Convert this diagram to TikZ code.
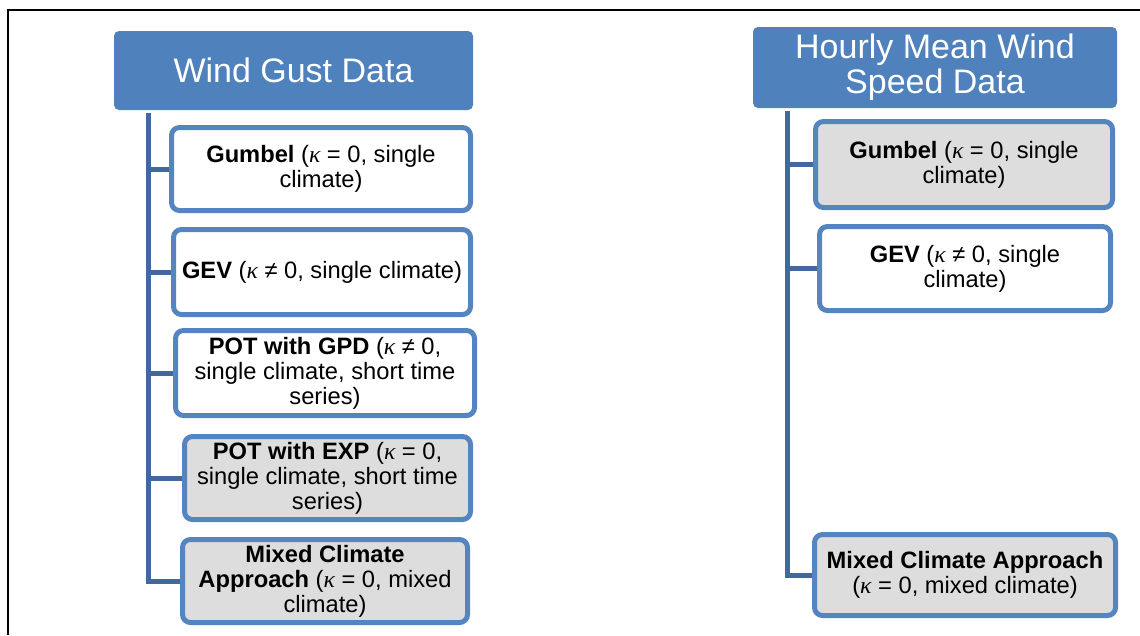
\documentclass[tikz,border=0pt]{standalone}
\usepackage{fontspec}
\setmainfont{Liberation Sans}
\newfontfamily\kfont{Liberation Serif}
\newcommand{\kap}{{\kfont\itshape κ}}
\definecolor{hdrblue}{HTML}{4F81BD}
\definecolor{boxblue}{HTML}{5585C0}
\definecolor{connblue}{HTML}{41699D}
\definecolor{boxgrey}{HTML}{DDDDDD}
\begin{document}
\begin{tikzpicture}[x=1pt,y=-1pt,
  hdr/.style={fill=hdrblue, draw=none, rounded corners=5pt, inner sep=0pt,
    text=white, align=center, font=\fontsize{34}{35}\selectfont},
  item/.style={draw=boxblue, line width=5pt, rounded corners=8pt, inner sep=0pt,
    fill=white, align=center, font=\fontsize{23.7}{25}\selectfont},
  greyitem/.style={item, fill=boxgrey},
  conn/.style={draw=connblue, line width=5pt}]
\useasboundingbox (0,0) rectangle (1140,635);
\fill[white] (0,0) rectangle (1140,635);
\draw[black, line width=2pt] (1140,10) -- (8,10) -- (8,635);

% left column
\node[hdr, minimum width=359pt, minimum height=79pt] (hL) at (293.5,70.5) {Wind Gust Data};
\node[item, minimum width=299pt, minimum height=83pt] (L1) at (321,169)
  {\textbf{Gumbel} (\kap{} = 0, single\\climate)};
\node[item, minimum width=297pt, minimum height=85pt] (L2) at (322,272)
  {\textbf{GEV} (\kap{} ≠ 0, single climate)};
\node[item, minimum width=299pt, minimum height=85pt] (L3) at (325,373)
  {\textbf{POT with GPD} (\kap{} ≠ 0,\\single climate, short time\\series)};
\node[greyitem, minimum width=286pt, minimum height=83pt] (L4) at (327.5,478)
  {\textbf{POT with EXP} (\kap{} = 0,\\single climate, short time\\series)};
\node[greyitem, minimum width=285pt, minimum height=83pt] (L5) at (325,581)
  {\textbf{Mixed Climate}\\\textbf{Approach} (\kap{} = 0, mixed\\climate)};
\coordinate (cL) at (148,113);
\foreach \b in {L1,L2,L3,L4,L5} \draw[conn] (cL) |- (\b.west);

% right column
\node[hdr, minimum width=364pt, minimum height=81pt] (hR) at (935,67.5) {Hourly Mean Wind\\Speed Data};
\node[greyitem, minimum width=297pt, minimum height=86pt] (R1) at (964,164.5)
  {\textbf{Gumbel} (\kap{} = 0, single\\climate)};
\node[item, minimum width=291pt, minimum height=84pt] (R2) at (965,268.5)
  {\textbf{GEV} (\kap{} ≠ 0, single\\climate)};
\node[greyitem, minimum width=301pt, minimum height=81pt] (R3) at (965,575)
  {\textbf{Mixed Climate Approach}\\(\kap{} = 0, mixed climate)};
\coordinate (cR) at (787,111);
\foreach \b in {R1,R2,R3} \draw[conn] (cR) |- (\b.west);
\end{tikzpicture}
\end{document}
